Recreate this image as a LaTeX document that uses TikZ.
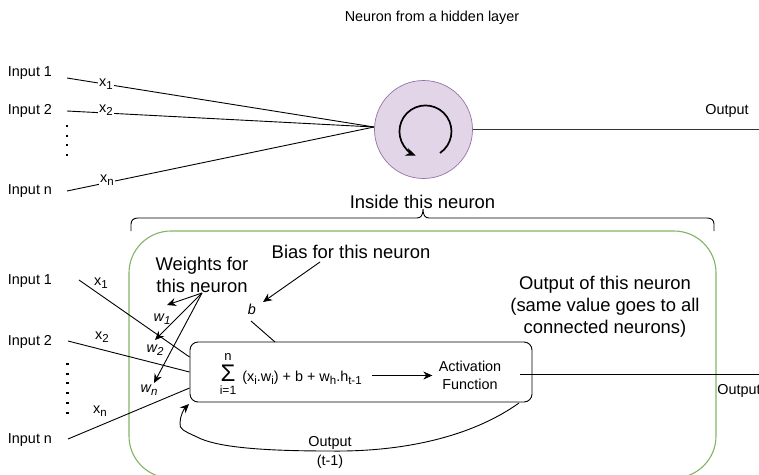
\documentclass[tikz,border=0pt]{standalone}
\usepackage{fontspec}
\setmainfont{Liberation Sans}
\usetikzlibrary{arrows.meta}
\definecolor{neuronfill}{HTML}{E1D5E7}
\definecolor{neuronline}{HTML}{9673A6}
\definecolor{insideline}{HTML}{82B366}
\tikzset{
	smalltext/.style={font=\fontsize{14.4}{17.5}\selectfont, align=center, inner sep=0pt},
	bigtext/.style={font=\fontsize{18.4}{22.2}\selectfont, align=center, inner sep=0pt},
	weighttext/.style={font=\fontsize{14.4}{17}\selectfont\itshape, inner sep=0pt},
	inputlabel/.style={smalltext, fill=white, inner sep=1pt},
	dots/.style={line width=2.2pt, dash pattern=on 2pt off 7.7pt},
}
\begin{document}
\begin{tikzpicture}[x=1pt, y=-1pt, line width=0.9pt, >={Stealth[length=9pt, width=8pt]}]
	\newcommand{\LOWER}[1]{\raisebox{-3pt}{\fontsize{11.5}{11.5}\selectfont #1}}
	\clip (0,0) rectangle (759,474);

	\node[smalltext](title) at (432,17.5){Neuron from a hidden layer};
	\node[circle, draw=neuronline, fill=neuronfill, line width=0.7pt, minimum size=98pt, inner sep=0pt](neuron) at (423.5,129.5){};
	\coordinate(spinstart) at (440,153);
	\draw[->, line width=1.7pt, >={Stealth[length=10pt, width=8pt, open, fill=white]}] (spinstart) arc[start angle=-56, end angle=248, radius=26pt];

	\node[smalltext](topA) at (30,73){Input 1};
	\node[smalltext](topB) at (30,111){Input 2};
	\node[smalltext](topN) at (30,191.5){Input n};
	\coordinate(topAstart) at (67,78);
	\coordinate(topBstart) at (67,111);
	\coordinate(topNstart) at (67,191);
	\coordinate(neuronin) at (374,127);
	\draw (topAstart) -- (neuronin);
	\draw (topBstart) -- (neuronin);
	\draw (topNstart) -- (neuronin);
	\node[inputlabel](topXa) at (106,84){x\LOWER{1}};
	\node[inputlabel](topXb) at (106,110){x\LOWER{2}};
	\node[inputlabel](topXn) at (107,180){x\LOWER{n}};
	\coordinate(topdotsA) at (67,125);
	\coordinate(topdotsB) at (67,157);
	\draw[dots] (topdotsA) -- (topdotsB);
	\coordinate(topout) at (759,129.5);
	\draw[line width=1.1pt, black!80] (neuron.east) -- (topout);
	\node[smalltext](topoutput) at (727,111){Output};

	\node[bigtext](inside) at (422.5,202){Inside this neuron};
	\coordinate(braceL) at (131,231);
	\coordinate(braceT) at (423,209);
	\coordinate(braceR) at (714,231);
	\draw (braceL) -- (131,224) .. controls (131,220) and (134,218) .. (138,218) -- (417,218) .. controls (421,218) and (423,215) .. (braceT) .. controls (423,215) and (425,218) .. (429,218) -- (707,218) .. controls (711,218) and (714,220) .. (714,224) -- (braceR);
	\draw[insideline, line width=1.1pt, rounded corners=42pt] (129,231) rectangle (716,478);

	\node[smalltext](inA) at (30,281){Input 1};
	\node[smalltext](inB) at (30,342){Input 2};
	\node[smalltext](inN) at (30,440){Input n};
	\node[draw, rounded corners=8pt, minimum width=342pt, minimum height=60pt, inner sep=0pt](box) at (361,372){};
	\coordinate(inAstart) at (79,280);
	\coordinate(inBstart) at (68,341);
	\coordinate(inNstart) at (68,439);
	\coordinate(boxA) at (box.west |- 0,357);
	\coordinate(boxB) at (box.west |- 0,372);
	\coordinate(boxN) at (box.west |- 0,388);
	\draw (inAstart) -- (boxA);
	\draw (inBstart) -- (boxB);
	\draw (inNstart) -- (boxN);
	\node[smalltext](xa) at (101,283){x\LOWER{1}};
	\node[smalltext](xb) at (102,337){x\LOWER{2}};
	\node[smalltext](xn) at (100,411){x\LOWER{n}};
	\coordinate(dotsA) at (67.5,363);
	\coordinate(dotsB) at (67.5,416);
	\draw[dots] (dotsA) -- (dotsB);

	\node[bigtext](weights) at (202,275){Weights for\\this neuron};
	\node[weighttext](wa) at (162,319){w\LOWER{1}};
	\node[weighttext](wb) at (155,350){w\LOWER{2}};
	\node[weighttext](wn) at (149,390){w\LOWER{n}};
	\coordinate(weightsfoot) at (202,293);
	\coordinate(waend) at (167,305);
	\coordinate(wbend) at (155,340);
	\coordinate(wnend) at (154,383);
	\draw[->] (weightsfoot) -- (waend);
	\draw[->] (weightsfoot) -- (wbend);
	\draw[->] (weightsfoot) -- (wnend);

	\node[bigtext](bias) at (351,252){Bias for this neuron};
	\node[weighttext](b) at (252,309){b};
	\coordinate(biasstart) at (320,262);
	\coordinate(biasend) at (263,302);
	\draw[->] (biasstart) -- (biasend);
	\coordinate(bfoot) at (251,321);
	\coordinate(btop) at (275,342);
	\draw (bfoot) -- (btop);

	\node[smalltext, font=\fontsize{13}{13}\selectfont](sumsign) at (228,374){n\\[4pt]\fontsize{24}{10}\selectfont Σ\\[0pt]\fontsize{12}{12}\selectfont i=1};
	\node[smalltext, inner xsep=10pt](expr) at (302,378){(x\LOWER{i}.w\LOWER{i}) + b + w\LOWER{h}.h\LOWER{t-1}};
	\node[smalltext, inner xsep=6pt](act) at (470,375.5){Activation\\Function};
	\draw[->] (expr.east |- act.west) -- (act.west);

	\node[bigtext](outtext) at (605,306.5){Output of this neuron\\(same value goes to all\\connected neurons)};
	\coordinate(outstart) at (520,374.5);
	\coordinate(outend) at (759,374.5);
	\draw (outstart) -- (outend);
	\node[smalltext](output) at (739,390.5){Output};

	\coordinate(fbstart) at (519,403);
	\coordinate(fbend) at (189,404);
	\draw[->] (fbstart) .. controls (470,438) and (400,452) .. (330,451) .. controls (260,451) and (216,447) .. (197,437) .. controls (184,431) and (179,429) .. (180,423) .. controls (180,416) and (184,409) .. (fbend);
	\node[smalltext, font=\fontsize{14.4}{19}\selectfont](fbtext) at (330,452){Output\\(t-1)};
\end{tikzpicture}
\end{document}
